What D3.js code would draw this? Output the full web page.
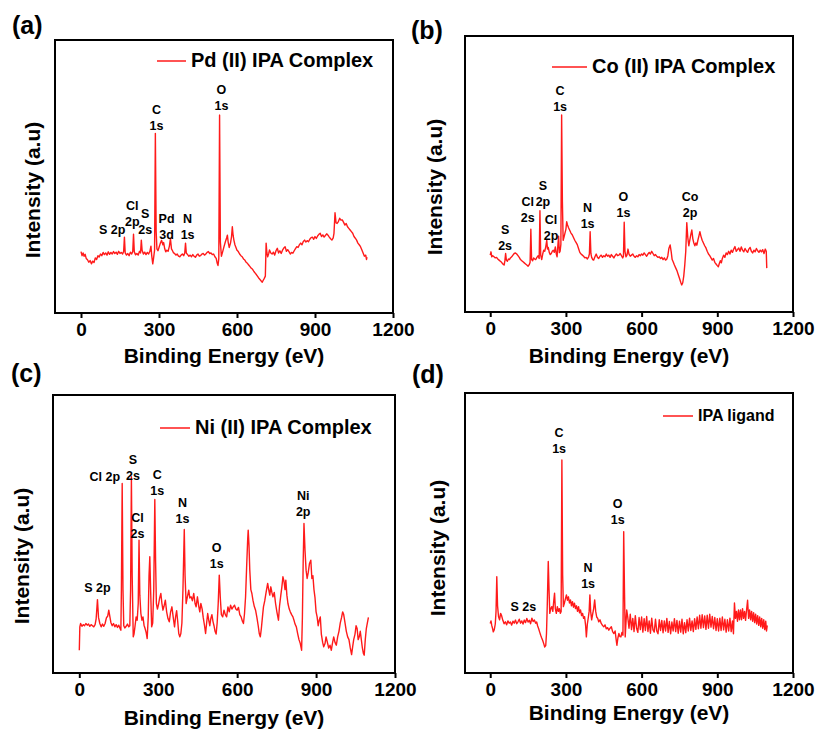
<!DOCTYPE html>
<html>
<head>
<meta charset="utf-8">
<script src="https://cdn.jsdelivr.net/npm/d3@7"></script>
<style>
body { margin: 0; background: #fff; }
text { font-family: "Liberation Sans", Arial, sans-serif; font-weight: bold; fill: #000; }
</style>
</head>
<body>
<div id="chart"></div>
<script>
///// DATA /////
var xTicks = [0, 300, 600, 900, 1200];
var panelLetters = ["(a)", "(b)", "(c)", "(d)"];
var seriesNames = ["Pd (II) IPA Complex", "Co (II) IPA Complex", "Ni (II) IPA Complex", "IPA ligand"];

// [binding energy (eV), intensity (a.u.)]
var pdSpectrum = [[0,22.5],[4,21.0],[8,22.0],[12,20.8],[16,21.5],[20,20.0],[25,19.5],[30,18.6],[35,19.2],[40,18.0],[45,19.0],[50,18.5],[55,20.2],[60,19.6],[65,21.0],[70,20.5],[75,21.6],[80,21.0],[85,22.2],[90,21.4],[95,22.0],[100,21.2],[105,22.4],[110,21.5],[115,22.2],[120,21.6],[125,22.5],[130,21.8],[135,22.3],[140,21.5],[145,22.6],[150,21.8],[155,22.2],[160,21.6],[164,22.5],[167,27.8],[170,22.0],[175,21.2],[180,21.8],[185,21.0],[190,22.3],[195,21.6],[199,22.5],[202,28.9],[205,22.4],[210,21.3],[215,21.8],[220,21.2],[225,22.6],[229,22.0],[232,26.7],[235,23.0],[240,21.6],[245,22.3],[250,21.4],[255,22.2],[260,21.6],[265,22.6],[269,24.5],[272,21.0],[276,18.0],[279,20.0],[283,23.0],[286,65.8],[289,30.0],[292,23.5],[296,22.8],[300,24.0],[305,25.5],[310,26.6],[315,25.0],[318,25.8],[322,23.5],[326,22.4],[330,23.0],[335,22.6],[340,24.5],[344,27.3],[348,23.5],[352,22.8],[356,22.0],[360,21.8],[365,21.2],[370,21.6],[375,20.8],[380,20.6],[385,21.2],[390,21.6],[395,21.0],[399,22.0],[402,25.6],[405,22.0],[410,21.4],[415,20.8],[420,21.2],[425,20.6],[430,21.4],[435,20.8],[440,20.4],[445,21.2],[450,21.6],[455,20.8],[460,21.0],[465,21.6],[470,21.8],[475,21.2],[480,21.6],[485,22.2],[490,22.5],[495,21.8],[500,22.0],[505,21.4],[510,21.6],[515,20.6],[520,20.0],[524,18.2],[527,17.4],[530,20.0],[533,72.5],[536,26.0],[540,20.8],[545,22.5],[550,24.3],[555,26.0],[560,27.5],[563,28.5],[566,26.0],[570,24.0],[575,25.6],[579,28.0],[582,31.6],[585,28.5],[588,26.7],[592,25.0],[596,24.0],[600,23.0],[605,22.5],[610,21.6],[615,21.0],[620,20.6],[625,19.8],[630,19.4],[635,18.6],[640,18.2],[645,17.6],[650,17.0],[655,16.4],[660,16.0],[665,15.2],[670,14.6],[675,14.0],[680,13.3],[685,12.6],[690,12.1],[694,11.6],[697,11.3],[701,12.0],[705,12.7],[709,13.5],[712,25.6],[715,22.0],[718,20.6],[722,21.8],[725,23.1],[730,22.0],[735,21.6],[740,22.3],[745,21.2],[750,22.8],[755,23.7],[760,22.0],[765,22.8],[770,21.8],[775,23.0],[780,23.8],[785,24.3],[790,22.6],[795,23.2],[800,22.5],[805,21.6],[810,22.2],[815,21.9],[820,22.8],[825,23.6],[830,24.3],[835,24.0],[840,25.0],[845,25.6],[850,25.0],[855,26.2],[860,26.7],[865,26.0],[870,26.5],[875,26.1],[880,27.0],[885,27.6],[890,27.8],[895,27.0],[900,28.0],[905,27.3],[910,28.2],[915,28.8],[920,29.2],[925,28.0],[930,28.6],[935,27.8],[940,28.4],[945,29.0],[950,28.5],[955,27.8],[960,27.2],[965,26.7],[970,27.5],[973,29.2],[977,36.7],[981,33.0],[985,32.8],[990,33.5],[995,34.7],[1000,34.0],[1005,34.1],[1010,33.2],[1015,32.2],[1020,32.8],[1025,31.6],[1030,31.0],[1035,30.4],[1040,29.8],[1045,29.2],[1050,28.0],[1055,27.4],[1060,26.7],[1065,25.6],[1070,25.0],[1075,24.3],[1080,23.2],[1085,22.0],[1090,20.8],[1095,21.2],[1098,19.6],[1100,20.5]];

var coSpectrum = [[0,20.6],[3,21.8],[6,20.0],[10,20.4],[15,20.0],[20,19.6],[25,19.8],[30,19.2],[35,18.8],[40,18.4],[45,18.0],[50,17.4],[55,17.0],[58,18.5],[61,21.2],[64,18.8],[68,18.4],[72,19.2],[76,19.0],[80,19.6],[85,20.0],[90,20.6],[95,21.2],[100,21.4],[105,21.0],[110,20.4],[115,19.8],[120,19.0],[125,18.6],[130,18.2],[135,17.8],[140,17.4],[145,17.0],[150,16.6],[155,17.2],[158,18.0],[161,30.0],[164,19.0],[168,18.6],[172,19.6],[176,19.2],[180,19.0],[185,19.8],[190,20.4],[194,19.4],[197,36.7],[200,20.6],[204,19.0],[208,21.0],[212,22.4],[216,22.0],[220,23.6],[224,26.0],[227,22.8],[230,23.4],[234,21.6],[238,20.8],[242,21.2],[246,22.0],[250,22.4],[254,21.6],[258,23.6],[262,21.0],[265,20.0],[268,24.0],[271,27.5],[274,21.5],[277,22.0],[280,24.5],[283,71.4],[286,40.0],[289,26.0],[292,27.0],[296,28.5],[300,30.0],[303,32.7],[306,31.6],[310,30.6],[315,29.6],[320,28.6],[325,28.0],[330,27.0],[335,26.0],[340,25.2],[345,24.4],[350,23.0],[355,21.6],[360,21.0],[365,20.6],[370,20.2],[375,19.6],[380,19.8],[385,19.2],[390,20.0],[393,21.0],[396,29.1],[399,21.2],[402,19.8],[406,19.0],[410,18.8],[415,20.0],[420,21.0],[425,19.8],[430,19.4],[435,20.2],[440,20.6],[445,19.8],[450,20.4],[455,20.0],[460,21.0],[465,20.2],[470,20.6],[475,19.8],[480,20.8],[485,20.2],[490,19.6],[495,20.4],[500,21.0],[505,20.4],[510,20.6],[515,21.2],[520,20.4],[525,19.6],[528,20.2],[531,32.5],[534,22.0],[538,20.0],[542,20.6],[546,22.8],[550,21.0],[555,20.2],[560,20.6],[565,21.0],[570,20.2],[575,19.8],[580,20.4],[585,20.0],[590,20.8],[595,20.4],[600,21.0],[605,20.6],[610,21.4],[615,20.8],[620,20.2],[625,21.0],[630,21.6],[635,21.0],[640,22.0],[645,21.2],[650,20.4],[655,20.8],[660,20.2],[665,19.8],[670,20.0],[675,19.4],[680,19.8],[685,19.0],[690,19.6],[695,18.8],[700,19.2],[704,20.4],[708,23.0],[713,24.3],[717,22.0],[721,19.0],[725,18.2],[730,17.0],[735,16.0],[740,15.0],[745,13.6],[750,12.2],[755,10.8],[759,9.8],[763,10.6],[767,13.0],[771,17.0],[775,22.0],[779,32.4],[783,27.0],[787,24.0],[791,26.0],[795,28.0],[799,29.7],[803,26.5],[807,25.0],[811,24.0],[815,25.0],[819,24.2],[823,26.0],[827,27.5],[831,29.1],[835,27.5],[840,26.0],[845,25.0],[850,24.0],[855,23.2],[860,22.0],[865,21.0],[870,20.4],[875,19.6],[880,18.8],[885,19.4],[890,18.0],[895,17.4],[900,16.8],[904,16.4],[908,17.6],[912,18.6],[916,17.8],[920,19.4],[925,20.6],[930,19.8],[935,21.4],[940,20.8],[945,22.0],[950,21.0],[955,22.4],[960,21.6],[965,22.8],[970,23.7],[975,22.0],[980,22.6],[985,23.2],[990,22.0],[995,23.6],[1000,22.4],[1005,21.8],[1010,23.0],[1015,22.2],[1020,21.6],[1025,22.8],[1030,23.4],[1035,22.0],[1040,21.4],[1045,22.4],[1050,21.8],[1055,23.0],[1060,22.2],[1065,21.6],[1070,22.4],[1075,21.8],[1080,22.6],[1085,21.2],[1090,22.8],[1094,22.0],[1096,15.9]];

var niSpectrum = [[0,8.2],[2,16.6],[5,17.8],[10,16.8],[15,17.4],[20,17.0],[25,17.8],[30,17.2],[35,17.6],[40,16.8],[45,17.4],[50,17.0],[55,16.6],[60,17.4],[64,19.5],[69,26.4],[73,20.0],[78,17.8],[83,16.6],[88,17.6],[93,16.8],[98,17.8],[103,19.8],[108,20.5],[112,22.6],[116,20.4],[120,18.2],[125,17.0],[130,17.8],[135,16.6],[140,17.4],[145,16.4],[150,17.2],[155,16.0],[158,15.4],[160,30.0],[163,68.2],[166,30.0],[169,17.0],[173,16.2],[178,16.8],[183,17.6],[188,16.6],[192,17.0],[195,30.0],[198,70.6],[201,35.0],[205,13.0],[208,14.0],[212,17.0],[216,20.2],[220,19.0],[224,25.0],[227,47.8],[230,28.0],[234,21.4],[238,19.0],[242,20.2],[246,17.2],[250,16.0],[254,14.6],[258,12.4],[262,20.0],[265,35.0],[268,41.8],[271,30.0],[275,16.6],[279,18.0],[283,30.0],[287,62.4],[290,40.0],[293,25.0],[297,23.0],[301,24.6],[305,26.8],[310,28.6],[314,25.0],[318,22.6],[322,24.0],[327,26.2],[332,22.0],[337,19.6],[342,18.4],[347,22.0],[352,23.8],[357,20.0],[362,16.6],[366,20.2],[370,22.4],[374,18.6],[378,14.2],[382,13.0],[386,14.2],[390,18.0],[394,30.0],[399,51.6],[402,35.0],[406,25.0],[410,27.0],[416,29.8],[420,27.0],[425,27.4],[430,26.0],[435,28.6],[440,25.0],[444,23.8],[449,27.4],[454,24.0],[458,22.0],[462,25.0],[467,23.0],[471,20.0],[476,17.0],[480,14.2],[484,18.0],[488,21.4],[492,19.0],[496,17.0],[500,19.6],[504,21.0],[508,18.6],[512,17.0],[516,15.0],[520,14.0],[524,18.0],[528,25.0],[532,35.2],[536,27.0],[540,21.0],[545,20.2],[550,22.6],[555,21.0],[560,20.2],[565,23.8],[570,22.0],[575,24.4],[580,23.0],[585,23.8],[590,24.4],[595,23.0],[600,22.6],[605,23.6],[610,21.0],[615,20.2],[620,18.6],[624,17.8],[628,21.4],[632,27.4],[636,38.0],[640,48.0],[642,51.4],[645,46.0],[648,37.0],[652,30.0],[656,28.6],[660,26.2],[665,24.0],[670,22.6],[675,20.0],[680,17.0],[684,14.2],[688,13.0],[692,16.0],[696,20.0],[700,23.8],[705,26.0],[710,29.0],[716,32.2],[720,30.0],[724,28.0],[728,31.0],[732,29.0],[736,27.4],[741,29.0],[746,25.0],[751,22.0],[757,19.0],[761,24.0],[766,28.0],[770,31.0],[774,34.6],[778,33.0],[782,30.0],[785,33.4],[789,28.0],[793,25.0],[798,23.0],[802,22.0],[807,21.0],[812,20.2],[816,19.0],[820,17.6],[825,16.6],[830,14.2],[835,12.0],[840,10.6],[845,8.2],[848,20.0],[851,40.0],[854,53.8],[858,44.0],[862,37.0],[866,34.0],[870,36.0],[875,39.4],[880,40.6],[884,34.0],[888,35.0],[892,30.0],[896,27.0],[900,22.0],[904,20.2],[908,17.0],[912,19.0],[916,20.2],[920,14.0],[925,11.0],[929,9.4],[934,10.6],[938,13.0],[943,11.0],[948,9.0],[953,10.0],[958,8.2],[962,10.6],[967,13.0],[972,11.0],[977,10.0],[982,13.0],[987,15.0],[992,18.0],[997,20.0],[1001,22.0],[1005,21.0],[1010,18.0],[1015,15.0],[1020,13.0],[1025,12.0],[1030,9.0],[1035,6.6],[1039,9.4],[1043,12.0],[1048,14.0],[1052,17.0],[1056,16.0],[1060,12.0],[1064,13.0],[1068,15.0],[1072,12.0],[1076,9.0],[1080,7.0],[1083,6.4],[1087,12.0],[1091,16.0],[1095,18.0],[1099,20.0]];

var ligandSpectrum = [[0,17.7],[3,18.6],[6,17.0],[9,16.0],[12,14.7],[16,15.5],[20,17.5],[23,22.0],[26,34.4],[29,24.0],[33,20.1],[37,19.0],[41,21.3],[45,20.5],[50,18.8],[55,17.6],[60,18.3],[65,17.2],[70,18.6],[75,17.8],[80,18.2],[85,17.1],[90,18.5],[95,17.8],[100,18.9],[105,17.6],[110,18.3],[115,19.2],[120,17.8],[125,18.6],[130,17.5],[135,18.9],[140,18.0],[145,19.5],[150,18.2],[155,18.8],[160,17.6],[165,19.6],[170,18.4],[175,18.9],[180,17.8],[184,18.2],[188,16.8],[192,15.8],[196,14.6],[200,13.5],[204,12.5],[208,11.6],[212,10.5],[216,9.3],[220,9.8],[223,14.1],[226,24.0],[230,39.8],[233,30.0],[236,21.3],[240,23.0],[244,23.7],[248,22.0],[252,26.0],[255,28.5],[258,23.0],[262,21.3],[266,23.7],[270,22.0],[274,23.0],[278,21.3],[281,22.0],[284,76.1],[287,35.0],[290,23.7],[294,25.0],[298,26.5],[302,27.9],[306,26.0],[310,27.2],[314,25.0],[318,26.1],[322,24.0],[326,25.5],[330,23.5],[334,24.9],[338,23.0],[342,24.0],[346,22.0],[350,23.7],[354,21.5],[358,22.5],[362,20.5],[366,21.3],[370,19.5],[374,20.1],[378,17.0],[381,12.9],[385,17.5],[389,20.0],[392,22.0],[395,27.9],[398,22.0],[402,19.0],[406,21.0],[410,23.0],[414,26.1],[418,22.0],[422,20.0],[426,19.5],[430,18.3],[435,19.0],[440,17.7],[445,17.0],[450,16.5],[455,17.2],[460,15.8],[465,16.2],[470,15.3],[475,16.0],[480,16.5],[485,14.8],[490,14.1],[495,15.0],[499,12.0],[502,9.9],[506,12.5],[510,14.1],[514,13.0],[518,12.9],[522,14.5],[526,13.5],[529,50.5],[532,30.0],[535,12.9],[538,18.0],[541,22.5],[545,20.0],[550,16.0],[555,21.0],[560,15.5],[565,19.5],[570,14.8],[575,20.5],[580,16.0],[585,14.5],[590,19.8],[595,15.5],[600,20.0],[605,14.6],[610,19.4],[615,15.2],[620,20.2],[625,14.8],[630,18.6],[635,14.2],[640,19.6],[645,15.4],[650,14.6],[655,19.2],[660,15.0],[665,14.0],[670,19.0],[675,15.2],[680,18.8],[685,14.4],[690,18.6],[695,15.0],[700,19.5],[705,14.5],[710,18.4],[715,14.0],[720,18.2],[725,15.0],[730,19.4],[735,14.8],[740,18.8],[745,14.2],[750,18.5],[755,14.6],[760,19.2],[765,14.0],[770,18.0],[775,14.4],[780,19.0],[785,15.0],[790,19.6],[795,15.2],[800,18.6],[805,14.8],[810,19.4],[815,15.6],[820,20.0],[825,15.8],[830,20.6],[835,16.0],[840,20.8],[845,16.2],[850,20.4],[855,15.6],[860,20.6],[865,16.0],[870,21.0],[875,16.4],[880,20.2],[885,15.8],[890,19.8],[895,15.2],[900,19.4],[905,15.0],[910,19.6],[915,15.2],[920,20.0],[925,15.4],[930,19.2],[935,14.6],[940,19.0],[945,15.0],[950,19.6],[955,14.8],[960,18.6],[964,14.0],[968,25.0],[972,19.5],[976,22.0],[980,18.5],[984,22.5],[988,19.0],[992,22.5],[996,19.0],[1000,23.0],[1004,19.5],[1008,22.0],[1012,18.8],[1016,22.5],[1020,26.0],[1024,19.5],[1028,22.5],[1032,19.0],[1036,22.0],[1040,18.5],[1044,21.5],[1048,18.0],[1052,21.0],[1056,17.5],[1060,20.5],[1064,17.0],[1068,20.0],[1072,16.5],[1076,19.5],[1080,16.0],[1084,19.0],[1088,15.5],[1092,18.5],[1095,15.0],[1098,17.0]];

// peak labels: [lines, eV, intensity of first baseline]
var pdPeaks = [[["O","1s"],540,80.2],[["C","1s"],290,72.9],[["Cl","2p"],197,37.7],[["S","2s"],247,34.8],[["S 2p"],120,28.9],[["Pd","3d"],329,33],[["N","1s"],410,33]];
var coPeaks = [[["C","1s"],277,78.6],[["S","2s"],59,28.3],[["Cl","2s"],149,38.4],[["S","2p"],209,44.2],[["Cl","2p"],241,31.9],[["N","1s"],386,36.2],[["O","1s"],528,40.2],[["Co","2p"],792,40.2]];
var niPeaks = [[["S 2p"],69,29.1],[["Cl 2p"],97,69],[["S","2s"],204,75.2],[["C","1s"],296,69.7],[["Cl","2s"],221,54.3],[["N","1s"],392,59.7],[["O","1s"],522,43.5],[["Ni","2p"],851,62.2]];
var ligandPeaks = [[["C","1s"],273,84.4],[["O","1s"],505,58.9],[["N","1s"],388,36],[["S 2s"],131,22.1]];

var spectra = [pdSpectrum, coSpectrum, niSpectrum, ligandSpectrum];
var peaks = [pdPeaks, coPeaks, niPeaks, ligandPeaks];

///// LAYOUT /////
var layout = [
	{left: 55, top: 40, right: 393, bottom: 313, letterX: 12, letterY: 34, yTitleX: 40, yTitleY: 190, xTitleY: 363, legX: 157, legY: 61, legLen: 29, legFont: 20},
	{left: 465, top: 36, right: 793, bottom: 312, letterX: 411, letterY: 39, yTitleX: 442, yTitleY: 187, xTitleY: 363, legX: 552, legY: 67, legLen: 35, legFont: 20},
	{left: 53, top: 395, right: 395, bottom: 673, letterX: 11, letterY: 382, yTitleX: 29, yTitleY: 556, xTitleY: 725, legX: 160, legY: 428, legLen: 30, legFont: 20},
	{left: 465, top: 393, right: 793, bottom: 673, letterX: 412, letterY: 383, yTitleX: 445, yTitleY: 548, xTitleY: 720, legX: 663, legY: 416, legLen: 30, legFont: 16}
];

var svg = d3.select('#chart')
	.append('svg')
	.attr('width', 816)
	.attr('height', 729)
	.style('background', '#fff');

layout.forEach(function(p, i) {
	var x = d3.scaleLinear().domain([-100, 1200]).range([p.left, p.right]);
	var y = d3.scaleLinear().domain([0, 100]).range([p.bottom, p.top]);
	var g = svg.append('g');

	// spectrum
	var line = d3.line().x(d => x(d[0])).y(d => y(d[1]));
	g.append('path')
		.datum(spectra[i])
		.attr('d', line)
		.attr('fill', 'none')
		.attr('stroke', '#ff1a1a')
		.attr('stroke-width', 1.4)
		.attr('stroke-linejoin', 'round');

	// frame
	g.append('rect')
		.attr('x', p.left).attr('y', p.top)
		.attr('width', p.right - p.left).attr('height', p.bottom - p.top)
		.attr('fill', 'none')
		.attr('stroke', '#000')
		.attr('stroke-width', 2);

	// bottom axis
	var ax = g.append('g')
		.attr('transform', `translate(0,${p.bottom})`)
		.call(d3.axisBottom(x).tickValues(xTicks).tickFormat(d3.format('d'))
			.tickSize(5).tickSizeOuter(0).tickPadding(5));
	ax.select('.domain').remove();
	ax.selectAll('.tick line').attr('stroke', '#000').attr('stroke-width', 2);
	ax.selectAll('.tick text')
		.style('font-family', '"Liberation Sans", Arial, sans-serif')
		.style('font-weight', 'bold')
		.style('font-size', '19px')
		.attr('fill', '#000');

	// titles
	g.append('text')
		.attr('x', (p.left + p.right) / 2)
		.attr('y', p.xTitleY)
		.attr('text-anchor', 'middle')
		.style('font-size', '21px')
		.text('Binding Energy (eV)');

	g.append('text')
		.attr('transform', `translate(${p.yTitleX},${p.yTitleY}) rotate(-90)`)
		.attr('text-anchor', 'middle')
		.style('font-size', '21px')
		.text('Intensity (a.u)');

	g.append('text')
		.attr('x', p.letterX)
		.attr('y', p.letterY)
		.style('font-size', '25px')
		.text(panelLetters[i]);

	// legend
	g.append('line')
		.attr('x1', p.legX).attr('x2', p.legX + p.legLen)
		.attr('y1', p.legY).attr('y2', p.legY)
		.attr('stroke', '#ff1a1a')
		.attr('stroke-width', 1.5);
	g.append('text')
		.attr('x', p.legX + p.legLen + 5)
		.attr('y', p.legY + (p.legFont === 16 ? 5 : 6))
		.style('font-size', p.legFont + 'px')
		.text(seriesNames[i]);

	// peak labels
	var lbl = g.selectAll('.peak')
		.data(peaks[i]).enter().append('text')
		.attr('class', 'peak')
		.attr('text-anchor', 'middle')
		.style('font-size', '12.5px')
		.attr('transform', d => `translate(${x(d[1])},${y(d[2])})`);
	lbl.selectAll('tspan')
		.data(d => d[0]).enter().append('tspan')
		.attr('x', 0)
		.attr('y', (d, j) => j * 16)
		.text(d => d);
});
</script>
</body>
</html>
